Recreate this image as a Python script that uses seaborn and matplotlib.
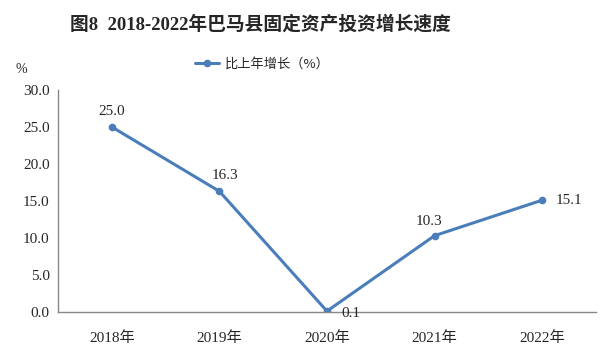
import pandas as pd
import matplotlib.pyplot as plt
import seaborn as sns

years = ["2018年", "2019年", "2020年", "2021年", "2022年"]
growth = [25.0, 16.3, 0.1, 10.3, 15.1]
series_name = "比上年增长（%）"
y_ticks = [0.0, 5.0, 10.0, 15.0, 20.0, 25.0, 30.0]

df = pd.DataFrame({"year": years, "growth": growth})

sns.set_style("white")
plt.rcParams['font.family'] = ['Liberation Serif', 'Noto Sans CJK SC']

fig = plt.figure(figsize=(6.1, 3.54), dpi=100)
ax = fig.add_axes([0.095, 0.119, 0.882, 0.627])

line_color = "#4a7ebb"
sns.lineplot(data=df, x="year", y="growth", ax=ax, color=line_color,
             marker="o", markersize=5.5, markeredgewidth=0, linewidth=2.2,
             label=series_name, sort=False)

ax.set_xlim(-0.5, len(years) - 0.5)
ax.set_ylim(0, 30)
ax.set_yticks(y_ticks)
ax.set_yticklabels([f"{v:.1f}" for v in y_ticks], fontsize=11)
ax.set_xticks(range(len(years)))
ax.set_xticklabels(years, fontsize=11, family=['Liberation Serif', 'Noto Sans CJK SC'])
ax.set_xticks([i + 0.5 for i in range(-1, len(years))], minor=True)
ax.tick_params(axis='x', which='major', length=0, pad=14)
ax.tick_params(axis='x', which='minor', direction='in', length=4, color='#888888')
ax.tick_params(axis='y', direction='in', length=4, color='#888888', pad=6)
ax.set_xlabel("")
ax.set_ylabel("")

for side in ["top", "right"]:
    ax.spines[side].set_visible(False)
for side in ["left", "bottom"]:
    ax.spines[side].set_color("#888888")
    ax.spines[side].set_linewidth(1.0)

# value labels (offsets in points)
offsets = [(0, 11), (4, 11), (17, -2), (-4, 10), (19, 0)]
for i, (v, (dx, dy)) in enumerate(zip(growth, offsets)):
    ax.annotate(f"{v:.1f}", (i, v), xytext=(dx, dy), textcoords="offset points",
                ha='center', va='center', fontsize=11)

ax.legend(loc='center', bbox_to_anchor=(0.38, 1.115), frameon=False,
          handlelength=1.8, handletextpad=0.4,
          prop={'family': ['Noto Sans CJK SC', 'DejaVu Sans'], 'size': 9.5})

fig.text(0.025, 0.795, "%", fontsize=10, family='Liberation Serif')
fig.text(0.427, 0.93, "图8  2018-2022年巴马县固定资产投资增长速度", ha='center', va='center',
         fontsize=13.5, fontweight='bold',
         family=['Liberation Serif', 'Noto Sans CJK SC'])

fig.savefig("out.png", dpi=100)
